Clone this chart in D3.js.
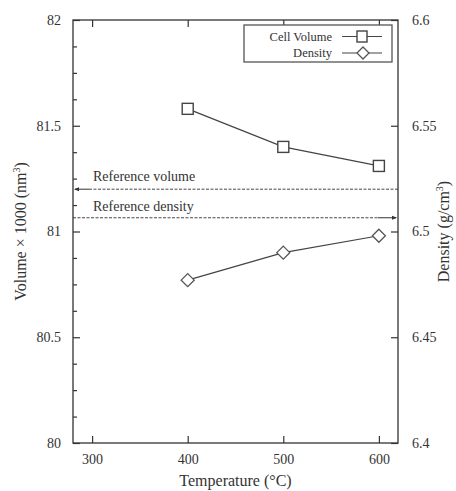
<!DOCTYPE html>
<html><head><meta charset="utf-8">
<script src="https://cdn.jsdelivr.net/npm/d3@7"></script>
<style>body{margin:0;background:#fff}svg{display:block}svg text{font-family:"Liberation Serif","Times New Roman",serif !important;fill:#333}</style>
</head><body><svg id="c" width="456" height="491"></svg>
<script>
const temperatures=[400,500,600];
const cellVolume=[81.58,81.40,81.31];
const density=[6.477,6.490,6.498];
const referenceVolume=81.2;
const referenceDensity=6.5065;
const xTicks=[300,400,500,600];
const yLeftTicks=[80,80.5,81,81.5,82];
const yRightTicks=[6.4,6.45,6.5,6.55,6.6];

const svg=d3.select("#c");
const L=73,R=398,T=20,B=443;
const x=d3.scaleLinear().domain([280,620]).range([L,R]);
const yL=d3.scaleLinear().domain([80,82]).range([B,T]);
const yR=d3.scaleLinear().domain([6.4,6.6]).range([B,T]);
const ink="#333";
const serif='"Liberation Serif","Times New Roman",serif';

svg.append("rect").attr("x",L).attr("y",T).attr("width",R-L).attr("height",B-T).attr("fill","none").attr("stroke",ink).attr("stroke-width",1.3);

const xb=svg.append("g").attr("transform",`translate(0,${B})`).call(d3.axisBottom(x).tickValues(xTicks).tickSize(-7).tickPadding(11).tickFormat(d3.format("d")));
const xt=svg.append("g").attr("transform",`translate(0,${T})`).call(d3.axisTop(x).tickValues(xTicks).tickSize(-7).tickFormat(""));
const minor=d3.range(0,17).map(i=>80+i*0.125);
const yl=svg.append("g").attr("transform",`translate(${L},0)`).call(d3.axisLeft(yL).tickValues(yLeftTicks).tickSize(-7).tickPadding(12).tickFormat(d=>String(d)));
const ylm=svg.append("g").attr("transform",`translate(${L},0)`).call(d3.axisLeft(yL).tickValues(minor.filter(v=>Math.abs((v*2)%1)>1e-6)).tickSize(-4).tickFormat(""));
const yr=svg.append("g").attr("transform",`translate(${R},0)`).call(d3.axisRight(yR).tickValues(yRightTicks).tickSize(-7).tickPadding(14).tickFormat(d=>String(d)));
[xb,xt,yl,ylm,yr].forEach(g=>{g.attr("font-family",serif).attr("font-size",14);g.select(".domain").remove();g.selectAll("line").attr("stroke",ink).attr("stroke-width",1.2);g.selectAll("text").attr("fill",ink);});

const yv=yL(referenceVolume), yd=yR(referenceDensity);
svg.append("line").attr("x1",L+16).attr("x2",R).attr("y1",yv).attr("y2",yv).attr("stroke",ink).attr("stroke-width",0.9).attr("stroke-dasharray","3,1.5");
svg.append("line").attr("x1",L+2).attr("x2",L+16).attr("y1",yv).attr("y2",yv).attr("stroke",ink).attr("stroke-width",1);
svg.append("path").attr("d",`M${L+1},${yv}l5,-2v4z`).attr("fill",ink);
svg.append("line").attr("x1",L).attr("x2",R-20).attr("y1",yd).attr("y2",yd).attr("stroke",ink).attr("stroke-width",0.9).attr("stroke-dasharray","3,1.5");
svg.append("line").attr("x1",R-20).attr("x2",R-2).attr("y1",yd).attr("y2",yd).attr("stroke",ink).attr("stroke-width",1);
svg.append("path").attr("d",`M${R-1},${yd}l-5,-2v4z`).attr("fill",ink);
svg.append("text").attr("x",L+20).attr("y",yv-8).attr("font-size",14).text("Reference volume");
svg.append("text").attr("x",L+20).attr("y",yd-7).attr("font-size",14).text("Reference density");

const volPts=temperatures.map((t,i)=>[x(t),yL(cellVolume[i])]);
const denPts=temperatures.map((t,i)=>[x(t),yR(density[i])]);
const line=d3.line();
svg.append("path").attr("d",line(volPts)).attr("fill","none").attr("stroke","#444").attr("stroke-width",1.2);
svg.append("path").attr("d",line(denPts)).attr("fill","none").attr("stroke","#444").attr("stroke-width",1.2);
const sq=11, dm=6.5;
svg.selectAll(".sq").data(volPts).join("rect").attr("x",d=>d[0]-sq/2).attr("y",d=>d[1]-sq/2).attr("width",sq).attr("height",sq).attr("fill","#fff").attr("stroke","#444").attr("stroke-width",1.4);
svg.selectAll(".dm").data(denPts).join("path").attr("d",d=>`M${d[0]},${d[1]-dm}L${d[0]+dm},${d[1]}L${d[0]},${d[1]+dm}L${d[0]-dm},${d[1]}Z`).attr("fill","#fff").attr("stroke","#555").attr("stroke-width",1.3);

svg.append("rect").attr("x",244).attr("y",25).attr("width",148).attr("height",37).attr("fill","#fff").attr("stroke","#555").attr("stroke-width",1.3);
svg.append("text").attr("x",332).attr("y",41).attr("text-anchor","end").attr("font-size",12.5).text("Cell Volume");
svg.append("text").attr("x",332).attr("y",57).attr("text-anchor","end").attr("font-size",12.5).text("Density");
svg.append("line").attr("x1",342).attr("x2",382).attr("y1",36.5).attr("y2",36.5).attr("stroke","#444").attr("stroke-width",1.2);
svg.append("line").attr("x1",342).attr("x2",382).attr("y1",53).attr("y2",53).attr("stroke","#444").attr("stroke-width",1.2);
svg.append("rect").attr("x",362-5).attr("y",36.5-5.5).attr("width",10).attr("height",11).attr("fill","#fff").attr("stroke","#444").attr("stroke-width",1.4);
svg.append("path").attr("d","M363,47L369,53L363,59L357,53Z").attr("fill","#fff").attr("stroke","#555").attr("stroke-width",1.3);

svg.append("text").attr("x",(L+R)/2).attr("y",486).attr("text-anchor","middle").attr("font-size",16).text("Temperature (°C)");
svg.append("text").attr("transform",`translate(26,${(T+B)/2}) rotate(-90)`).attr("text-anchor","middle").attr("font-size",16)
  .html('Volume × 1000 (nm<tspan dy="-6" font-size="10">3</tspan><tspan dy="6">)</tspan>');
svg.append("text").attr("transform",`translate(449,${(T+B)/2}) rotate(-90)`).attr("text-anchor","middle").attr("font-size",16)
  .html('Density (g/cm<tspan dy="-6" font-size="10">3</tspan><tspan dy="6">)</tspan>');
</script></body></html>
